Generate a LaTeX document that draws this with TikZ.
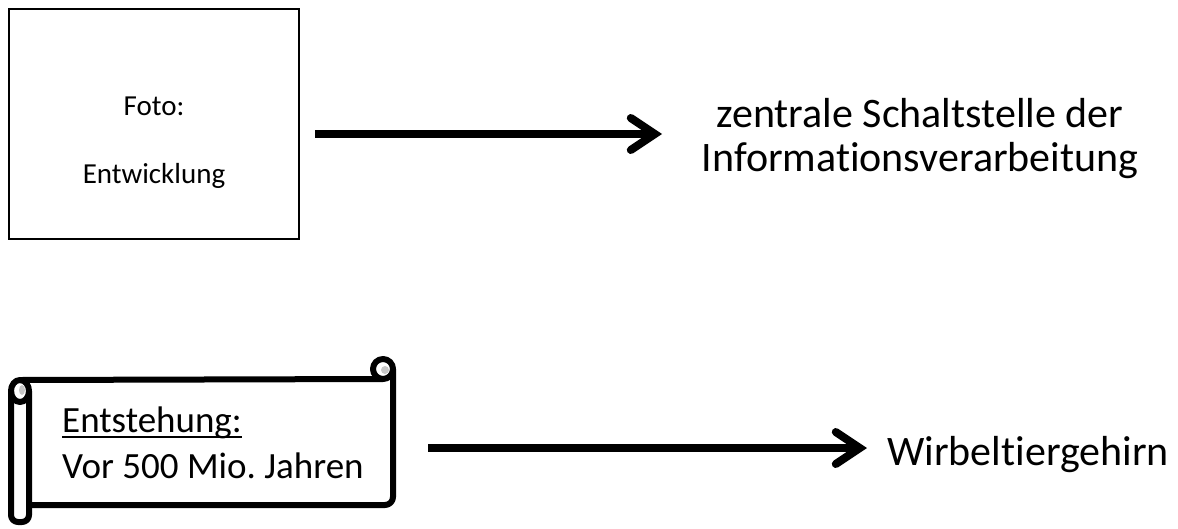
\documentclass[tikz,border=0pt]{standalone}
\usepackage{fontspec}
\setmainfont[Ligatures=NoCommon]{Carlito}
\usetikzlibrary{arrows.meta}
\frenchspacing

\begin{document}
\begin{tikzpicture}[x=1pt,y=-1pt]
\tikzstyle{fotobox}=[rectangle,draw,line width=1.2pt,minimum width=290pt,minimum height=230pt,inner sep=0pt]
\tikzstyle{smalltext}=[inner sep=0pt,anchor=base,font=\fontsize{29}{35}\selectfont]
\tikzstyle{bigtext}=[inner sep=0pt,font=\fontsize{42}{44}\selectfont]
\tikzstyle{scrolltext}=[inner sep=0pt,anchor=base west,font=\fontsize{37}{44}\selectfont]
\tikzstyle{bigarrow}=[line width=8pt,-{Straight Barb[length=24pt,width=32pt,line cap=round]}]
\tikzstyle{scrollline}=[line width=6pt,line join=round]
\useasboundingbox (0,0) rectangle (1178,528);
% photo placeholder
\node [fotobox] (foto) at (154,124) {};
\node [smalltext] (fototitel) at (154,115) {Foto:};
\node [smalltext] (fotoname) at (154,183) {Entwicklung};
\node [bigtext,align=center] (zentral) at (920,139) {zentrale Schaltstelle der\\Informationsverarbeitung};
\coordinate (pfeilA) at (315,134);
\coordinate (spitzeA) at (662,134);
\draw [bigarrow] (pfeilA) -- (spitzeA);
% scroll
\draw [scrollline,rounded corners=7pt] (29,391) -- (29,522) -- (11,522) -- (11,391);
\draw [scrollline] (20,391) ellipse [x radius=9,y radius=11];
\fill [gray!45] (22,390) ellipse [x radius=3,y radius=5];
\draw [scrollline] (20,380) -- (383,379);
\draw [scrollline,rounded corners=8pt] (393,369) -- (393,505) -- (29,505);
\draw [scrollline] (383,369) circle [radius=10];
\fill [gray!45] (385,370) circle [radius=4];
\node [scrolltext] (entstehung) at (62,432) {Entstehung:};
\draw [line width=2pt] ([yshift=-5pt]entstehung.base west) -- ([yshift=-5pt]entstehung.base east);
\node [scrolltext] (alter) at (62,478) {Vor 500 Mio. Jahren};
\node [bigtext,anchor=base west] (wirbel) at (887,465) {Wirbeltiergehirn};
\coordinate (pfeilB) at (428,448);
\draw [bigarrow,shorten >=20pt] (pfeilB) -- (pfeilB -| wirbel.west);
\end{tikzpicture}
\end{document}
